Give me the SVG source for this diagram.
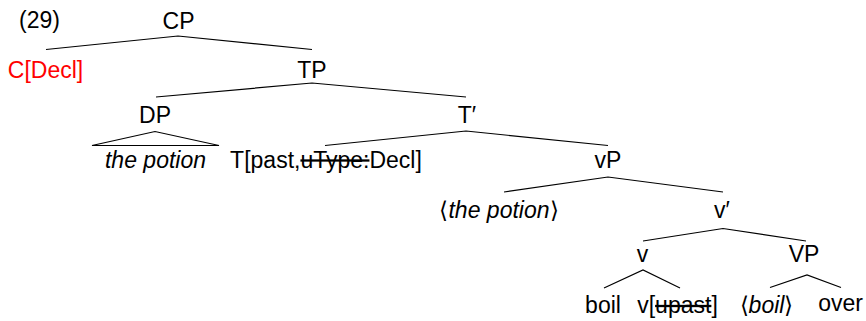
<svg xmlns="http://www.w3.org/2000/svg" width="866" height="321" viewBox="0 0 866 321">
<style>
text{font-family:"Liberation Sans",Arial,Helvetica,sans-serif;font-size:23px;fill:#000;text-anchor:middle}
.red{fill:#ff0000}
.it{font-style:italic}
.st{text-decoration:line-through}
.edge{stroke:#000;stroke-width:1.2;fill:none}
</style>
<rect width="866" height="321" fill="#fff"/>
<text x="39.5" y="27.5">(29)</text>
<g id="CP"><text x="178.5" y="29">CP</text></g>
<g id="C"><text class="red" x="45.5" y="77.5">C[Decl]</text></g>
<g id="TP"><text x="312" y="77.5">TP</text></g>
<g id="DP"><text x="155" y="122.5">DP</text></g>
<g id="Tbar"><text x="467" y="122.5">T′</text></g>
<g id="thepotion"><text class="it" x="155.5" y="167.5">the potion</text></g>
<g id="T"><text x="326" y="167.5">T[past,<tspan class="st">uType:</tspan>Decl]</text></g>
<g id="vP"><text x="608" y="167.5">vP</text></g>
<g id="trace"><text x="499" y="217.5">⟨<tspan class="it">the potion</tspan>⟩</text></g>
<g id="vbar"><text x="722" y="217.5">v′</text></g>
<g id="v"><text x="642.5" y="262">v</text></g>
<g id="VP"><text x="804" y="262">VP</text></g>
<g id="boil"><text x="603" y="313">boil</text></g>
<g id="vupast"><text x="677.5" y="313">v[<tspan class="st">upast</tspan>]</text></g>
<g id="boiltrace"><text x="766.5" y="313">⟨<tspan class="it">boil</tspan>⟩</text></g>
<g id="over"><text x="840.5" y="311">over</text></g>
<g id="connectors" class="edge">
<polyline points="46,49.5 178,36 312,49.5"/>
<polyline points="156,97 312,83 466,97"/>
<polygon points="92,145.5 155,131.5 219,145.5"/>
<polyline points="325,145.5 466,131 608,145.5"/>
<polyline points="504,192 608,177 723,192"/>
<polyline points="643,241 723,228.5 806,241"/>
<polyline points="604,288 643,270 680,288"/>
<polyline points="770,287.5 807,275 841,287.5"/>
</g>
</svg>
